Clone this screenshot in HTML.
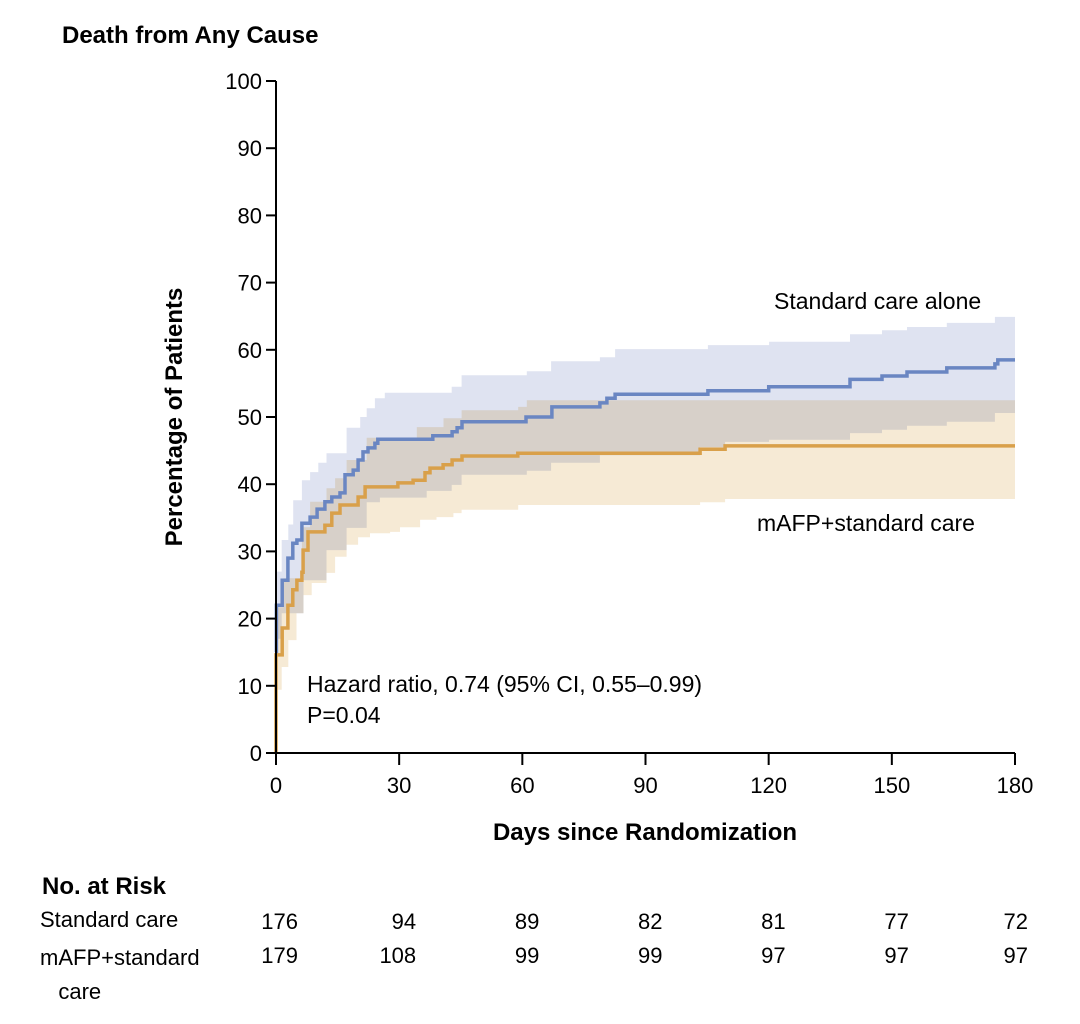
<!DOCTYPE html>
<html><head><meta charset="utf-8"><style>
body{margin:0;background:#fff;}
svg{display:block;font-family:"Liberation Sans",sans-serif;}
</style></head><body>
<svg width="1080" height="1024" viewBox="0 0 1080 1024">
<g id="bands"></g><g id="lines"></g><g id="axes"></g><g id="texts"></g>
</svg>
<script>
const xTicks=[0,30,60,90,120,150,180];
const yTicks=[0,10,20,30,40,50,60,70,80,90,100];
const blueDays=[0,0.1,1.5,2.9,4.1,5.1,6.3,8.3,10,11.9,13.6,15.6,16.8,18.8,20,21.2,22.4,24.1,24.8,38.2,42.9,44.1,45.3,60.9,67.2,78.9,80.6,82.6,105.2,120,139.8,147.6,153.7,163.4,175.1,175.8];
const blueVals=[15,22,25.7,29,31.2,31.7,34.2,35.1,36.3,37.4,38.1,38.7,41.4,42.1,43.6,44.8,45.4,46.1,46.7,47.2,47.8,48.4,49.3,50.0,51.5,52.1,52.8,53.4,53.9,54.5,55.6,56.1,56.7,57.3,57.9,58.5];
const orangeDays=[0,1.5,2.9,4.1,5.1,6.3,6.6,7.8,11.9,13.6,15.6,20,21.7,29.7,33.4,36.3,37.5,40.7,42.9,45.3,58.9,103.3,109.4];
const orangeVals=[14.6,18.6,22,24.3,25.7,26.9,30.2,32.9,33.9,35.7,36.9,38.1,39.6,40.2,40.6,41.7,42.4,42.9,43.6,44.2,44.6,45.2,45.7];
const blueUpDays=[0,1.4,3,4.2,6.3,8.3,10.3,12.3,17.2,20.5,22.1,24.1,26.5,42.8,45.2,61.1,67,78.9,82.6,105.2,120.1,139.8,147.6,153.7,163.4,175.1];
const blueUpVals=[27,31.7,34,37.6,40.6,41.8,43.2,44.6,48.4,50,51.3,52.8,53.6,54.5,56.2,56.8,58.3,58.9,60.1,60.7,61.2,62.3,62.9,63.4,64,64.9];
const blueLoDays=[0,1.4,6.7,12.3,17.2,22.1,25.3,36.7,42.8,45.2,61.1,67,78.9,103.3,109.4,120.1,139.8,147.6,153.7,163.4,175.1];
const blueLoVals=[17,20.8,25.7,30.2,33.5,37.3,38,39,39.9,41.4,42,43.2,44.3,45.5,46.3,46.6,47.6,48.1,48.7,49.3,50.6];
const orUpDays=[0,1.8,6.3,8.3,12.3,14.4,17.2,22.1,34.3,40.8,45.2,59,61.1];
const orUpVals=[21.7,26,33.6,37.4,39.4,40.9,43.6,46.9,48.5,49.8,51,51.5,52.5];
const orLoDays=[0,1.4,3,5,6.7,8.7,12.3,14.4,17.2,20,22.9,27.8,30.2,35.1,39.1,43.2,45.2,59,103.3,109.4];
const orLoVals=[9.4,12.8,16.8,20.8,23.5,25.3,26.8,29.2,31,32.1,32.7,32.9,33.6,34.7,35.1,35.7,36.2,36.9,37.3,37.8];
const riskStd=[176,94,89,82,81,77,72];
const riskMafp=[179,108,99,99,97,97,97];

const X0=276,X1=1015,Y0=753,Y1=81;
const sx=d=>X0+(X1-X0)*d/180;
const sy=v=>Y0-(Y0-Y1)*v/100;
const NS='http://www.w3.org/2000/svg';
function mk(tag,attrs,parent){const e=document.createElementNS(NS,tag);for(const k in attrs)e.setAttribute(k,attrs[k]);document.getElementById(parent).appendChild(e);return e;}
function stepPts(days,vals){let p=[];for(let i=0;i<days.length;i++){const x=sx(days[i]);if(i>0)p.push([x,sy(vals[i-1])]);p.push([x,sy(vals[i])]);}p.push([sx(180),sy(vals[vals.length-1])]);return p;}
function band(uD,uV,lD,lV,fill,name){const up=stepPts(uD,uV),lo=stepPts(lD,lV).reverse();const d='M'+up.concat(lo).map(p=>p[0].toFixed(1)+','+p[1].toFixed(1)).join('L')+'Z';const e=mk('path',{d:d,fill:fill,style:'mix-blend-mode:multiply'},'bands');

}
band(blueUpDays,blueUpVals,blueLoDays,blueLoVals,'#dfe3f1');
document.querySelector('#bands path:last-child');
band(orUpDays,orUpVals,orLoDays,orLoVals,'#f6ead5','mafp-ci-band');
document.querySelector('#bands path:first-child');
function line(days,vals,col,name,start){let p=stepPts(days,vals);p.unshift([sx(0),sy(start)]);const e=mk('polyline',{points:p.map(q=>q[0].toFixed(1)+','+q[1].toFixed(1)).join(' '),fill:'none',stroke:col,'stroke-width':3.5},'lines');

}
line(blueDays,blueVals,'#6a86c2','standard-care-line',blueVals[0]);
line(orangeDays,orangeVals,'#d9a04a','mafp-line',0);
mk('line',{x1:X0,y1:Y1,x2:X0,y2:Y0,stroke:'#000','stroke-width':2},'axes');
mk('line',{x1:X0,y1:Y0,x2:X1,y2:Y0,stroke:'#000','stroke-width':2},'axes');
yTicks.forEach(v=>{mk('line',{x1:266,y1:sy(v),x2:X0,y2:sy(v),stroke:'#000','stroke-width':2},'axes');const t=mk('text',{x:262,y:sy(v)+8,'text-anchor':'end','font-size':22},'axes');t.textContent=v;

});
xTicks.forEach((v,i)=>{mk('line',{x1:sx(v),y1:Y0,x2:sx(v),y2:765,stroke:'#000','stroke-width':2},'axes');const t=mk('text',{x:sx(v),y:793,'text-anchor':'middle','font-size':22},'axes');t.textContent=v;


const r1=mk('text',{x:sx(v)+(i==0?22:(i==6?13:17)),y:929,'text-anchor':'end','font-size':22},'texts');r1.textContent=riskStd[i];


const r2=mk('text',{x:sx(v)+(i==0?22:(i==6?13:17)),y:963,'text-anchor':'end','font-size':22},'texts');r2.textContent=riskMafp[i];

});
</script>
<svg width="0" height="0"></svg>
<div style="position:absolute;left:0;top:0;width:1080px;height:1024px;pointer-events:none;font-family:'Liberation Sans',sans-serif;">
<div style="position:absolute;left:62px;top:22px;font-size:24px;font-weight:bold;">Death from Any Cause</div>
<div style="position:absolute;left:175px;top:417px;font-size:24px;font-weight:bold;transform:translate(-50%,-50%) rotate(-90deg);white-space:nowrap;">Percentage of Patients</div>
<div style="position:absolute;left:645px;top:819px;font-size:24px;font-weight:bold;transform:translateX(-50%);white-space:nowrap;">Days since Randomization</div>
<div style="position:absolute;left:774px;top:288px;font-size:23px;white-space:nowrap;">Standard care alone</div>
<div style="position:absolute;left:757px;top:510px;font-size:23px;white-space:nowrap;">mAFP+standard care</div>
<div style="position:absolute;left:307px;top:669px;font-size:23px;line-height:31px;white-space:nowrap;">Hazard ratio, 0.74 (95% CI, 0.55–0.99)<br>P=0.04</div>
<div style="position:absolute;left:42px;top:873px;font-size:24px;font-weight:bold;">No. at Risk</div>
<div style="position:absolute;left:40px;top:907px;font-size:22px;">Standard care</div>
<div style="position:absolute;left:40px;top:941px;font-size:22px;line-height:34px;">mAFP+standard<br>&nbsp;&nbsp;&nbsp;care</div>
</div>
</body></html>
